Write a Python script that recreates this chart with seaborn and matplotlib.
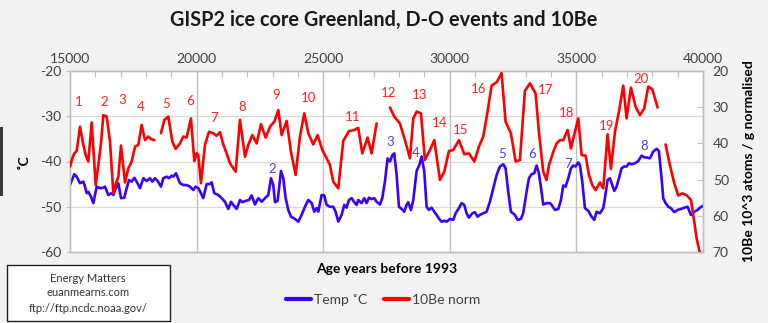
import numpy as np
import pandas as pd
import matplotlib
matplotlib.use("Agg")
import matplotlib.pyplot as plt
import seaborn as sns
from matplotlib.patches import Rectangle
from matplotlib.lines import Line2D

# ---------------- data ----------------
temp_age = [15000, 15171, 15264, 15395, 15527, 15593, 15658, 15724, 15830, 15922, 16053, 16185, 16316, 16382,
            16514, 16645, 16711, 16777, 16909, 17014, 17145, 17238, 17330, 17435, 17540, 17632, 17764, 17896,
            18027, 18159, 18251, 18356, 18461, 18593, 18685, 18817, 18909, 19014, 19080, 19185, 19343, 19475,
            19606, 19738, 19870, 19962, 20067, 20172, 20264, 20396, 20527, 20593, 20698, 20856, 20988, 21120,
            21251, 21358, 21450, 21582, 21713, 21805, 21937, 22069, 22174, 22305, 22437, 22569, 22700, 22832,
            22937, 23029, 23095, 23200, 23332, 23424, 23516, 23621, 23727, 23858, 24016, 24148, 24279, 24411,
            24543, 24648, 24740, 24806, 24937, 25043, 25135, 25266, 25398, 25490, 25595, 25727, 25832, 25924,
            26017, 26122, 26227, 26319, 26385, 26517, 26622, 26714, 26806, 26911, 27017, 27109, 27240, 27333,
            27438, 27543, 27636, 27729, 27807, 27900, 27992, 28097, 28202, 28294, 28360, 28465, 28558, 28689,
            28795, 28887, 28992, 29084, 29176, 29281, 29387, 29479, 29571, 29676, 29781, 29874, 30005, 30137,
            30229, 30361, 30466, 30571, 30663, 30755, 30887, 30992, 31097, 31190, 31321, 31453, 31584, 31716,
            31848, 31979, 32111, 32203, 32308, 32413, 32571, 32677, 32808, 32900, 33032, 33124, 33229, 33335,
            33427, 33519, 33624, 33690, 33822, 33953, 34021, 34153, 34284, 34390, 34482, 34574, 34679, 34784,
            34877, 34969, 35074, 35140, 35232, 35337, 35469, 35600, 35706, 35798, 35929, 36061, 36127, 36232,
            36324, 36416, 36495, 36587, 36680, 36785, 36890, 36982, 37074, 37180, 37311, 37443, 37574, 37680,
            37772, 37903, 38035, 38167, 38259, 38364, 38430, 38522, 38627, 38733, 38864, 38996, 39127, 39259,
            39391, 39522, 39654, 39785, 39877, 40000]
temp_c = [-45.2, -42.8, -43.35, -44.8, -44.45, -45.55, -47.0, -46.7, -47.8, -49.2, -45.55, -45.9, -45.8, -45.55,
          -47.4, -47.0, -47.4, -46.3, -44.8, -48.1, -48.0, -45.9, -44.1, -44.45, -43.6, -44.45, -45.9, -43.7,
          -44.3, -43.7, -44.45, -43.7, -44.3, -45.55, -43.7, -43.35, -43.7, -43.1, -43.35, -42.6, -44.8, -45.2,
          -45.2, -45.55, -46.3, -45.55, -45.9, -47.0, -48.1, -45.0, -45.0, -44.6, -47.0, -47.4, -48.1, -48.9,
          -50.5, -48.9, -49.6, -50.5, -48.5, -49.0, -48.7, -48.5, -47.5, -49.5, -48.1, -48.9, -48.1, -47.4,
          -43.7, -45.2, -49.0, -48.7, -42.1, -43.7, -48.1, -50.7, -52.2, -52.6, -53.3, -51.8, -50.0, -48.5,
          -49.2, -51.1, -50.3, -51.1, -47.4, -47.5, -49.6, -50.0, -50.0, -51.1, -53.3, -51.8, -49.6, -50.2,
          -48.5, -48.1, -49.0, -49.6, -48.5, -49.2, -48.1, -49.2, -48.0, -48.3, -48.1, -48.9, -49.5, -48.1,
          -44.45, -39.3, -40.0, -38.6, -38.2, -43.0, -50.0, -50.5, -51.1, -49.6, -49.0, -50.7, -48.5, -42.1,
          -40.8, -38.9, -42.2, -50.0, -50.7, -50.2, -51.1, -51.8, -52.6, -53.3, -53.1, -53.3, -52.7, -52.9,
          -51.45, -50.3, -49.2, -49.6, -51.45, -52.4, -51.45, -51.2, -52.2, -51.8, -51.45, -51.1, -48.9, -45.9,
          -43.0, -41.1, -40.6, -41.5, -46.7, -51.1, -51.8, -52.9, -52.7, -51.45, -46.7, -43.7, -42.8, -42.6,
          -40.9, -42.6, -46.7, -49.5, -49.2, -49.2, -49.6, -50.7, -50.5, -48.5, -45.3, -45.55, -43.7, -41.5,
          -40.9, -41.1, -40.2, -40.8, -44.45, -50.3, -50.9, -52.2, -52.9, -51.1, -51.45, -50.3, -48.1, -44.1,
          -43.7, -45.2, -46.5, -45.55, -43.7, -41.5, -41.1, -41.1, -40.4, -40.6, -40.4, -39.9, -38.7, -39.1,
          -39.1, -39.3, -37.8, -37.2, -37.7, -43.7, -48.1, -49.2, -50.0, -50.3, -51.2, -50.7, -50.5, -50.2,
          -50.0, -51.8, -51.1, -50.7, -50.2, -49.8]

be_age = [15000, 15093, 15171, 15264, 15395, 15527, 15619, 15724, 15856, 16014, 16119, 16224, 16316, 16448,
          16580, 16711, 16803, 16909, 17014, 17172, 17303, 17435, 17567, 17698, 17830, 17962, 18093, 18198,
          18330, 18460,
          18593, 18725, 18883, 19041, 19172, 19343, 19475, 19606, 19777, 19909, 20001, 20067, 20172, 20330,
          20488, 20659, 20790, 20922, 21054, 21185, 21317, 21542, 21713, 21911, 22042, 22200, 22371, 22542,
          22727, 22898, 23069, 23227, 23358, 23556, 23727, 23911, 24082, 24253, 24411, 24608, 24779, 24964,
          25135, 25266, 25398, 25595, 25793, 26017, 26227, 26385, 26543, 26753, 26911, 27109, 27370,
          27636, 27807, 28031, 28229, 28426, 28558, 28689, 28860, 29018, 29216, 29387, 29610, 29781, 29966,
          30137, 30361, 30571, 30755, 30966, 31150, 31321, 31492, 31650, 31848, 32045, 32203, 32413, 32598,
          32769, 32966, 33164, 33387, 33519, 33690, 33822, 33916, 34087, 34219, 34350, 34482, 34653, 34784,
          34942, 35074, 35206, 35364, 35495, 35627, 35758, 35929, 36061, 36232, 36364, 36522, 36680, 36851,
          36982, 37153, 37338, 37509, 37680, 37838, 37995, 38206, 38360,
          38522, 38693, 38864, 39022, 39180, 39351, 39522, 39654, 39746, 39900]
be_norm = [46.4, 44.1, 42.75, 42.1, 35.4, 40.4, 43.2, 45.0, 34.2, 51.5, 46.0, 40.0, 32.2, 32.6,
           39.5, 53.8, 51.3, 49.2, 40.6, 50.8, 46.9, 45.0, 40.9, 40.4, 34.9, 39.1, 38.1, 38.8,
           39.1, np.nan,
           37.2, 33.5, 32.6, 39.5, 41.5, 40.0, 38.1, 38.4, 33.1, 44.9, 42.75, 43.2, 51.0, 40.4,
           36.8, 37.2, 37.9, 36.9, 40.3, 42.75, 45.5, 47.8, 33.5, 43.7, 40.4, 37.7, 40.0, 34.7,
           38.4, 35.4, 34.0, 30.8, 37.7, 33.8, 42.3, 48.7, 38.1, 31.7, 37.2, 40.3, 37.7, 41.8,
           44.1, 46.0, 50.6, 52.4, 39.3, 36.6, 36.3, 35.7, 42.75, 38.4, 42.75, 34.5, np.nan,
           30.1, 32.6, 34.5, 39.1, 44.1, 33.1, 31.2, 31.7, 44.6, 41.8, 39.1, 50.1, 47.8, 42.1,
           41.8, 39.1, 43.0, 42.75, 45.0, 40.9, 38.1, 31.2, 24.05, 23.1, 20.6, 34.0, 37.2, 45.0,
           44.6, 25.5, 23.4, 26.2, 36.8, 47.8, 50.1, 46.0, 42.3, 40.0, 39.1, 39.1, 36.3, 41.4,
           36.8, 33.1, 43.2, 43.4, 48.7, 51.5, 52.9, 50.8, 52.4, 37.5, 47.1, 36.8, 31.2, 24.05,
           33.1, 24.6, 29.85, 32.2, 30.3, 24.3, 25.0, 30.1, np.nan,
           40.3, 46.0, 51.0, 54.4, 53.8, 54.3, 55.6, 61.6, 66.2, 71.0]

red_label_text = [str(i) for i in range(1, 21)]
red_label_age = [15355, 16343, 17053, 17804, 18791, 19739, 20687, 21792, 23135, 24438,
                 26176, 27597, 28822, 29611, 30440, 31151, 33797, 34627, 36206, 37549]
red_label_be = [28.6, 28.6, 28.0, 29.9, 29.1, 28.3, 33.0, 29.9, 26.6, 27.5,
                32.7, 26.1, 26.6, 34.4, 36.3, 25.0, 25.2, 31.6, 35.2, 22.2]

blue_label_text = ["2", "3", "4", "5", "6", "7", "8"]
blue_label_age = [22977, 27637, 28664, 32060, 33244, 34666, 37667]
blue_label_temp = [-41.7, -35.7, -38.1, -38.3, -38.3, -40.6, -36.6]

# ---------------- tables ----------------
temp_df = pd.DataFrame({"age": temp_age, "temp": temp_c})
be_df = pd.DataFrame({"age": be_age, "be": be_norm})
be_df["seg"] = be_df["be"].isna().cumsum()
be_df = be_df.dropna()

# ---------------- style ----------------
sns.set_theme(style="white")
plt.rcParams["font.family"] = ["Lato", "DejaVu Sans"]
plt.rcParams["axes.unicode_minus"] = False

BLUE = "#3a00ff"
RED = "#ff0000"
GREY_TXT = "#404040"

fig = plt.figure(figsize=(7.68, 3.23), dpi=100)
fig.patch.set_facecolor("#f2f2f2")
ax = fig.add_axes([70 / 768, 1 - 252 / 323, 633 / 768, 181 / 323])
ax.set_facecolor("white")

sns.lineplot(data=temp_df, x="age", y="temp", ax=ax, color=BLUE, lw=1.9,
             sort=False, estimator=None, zorder=3)

ax2 = ax.twinx()
sns.lineplot(data=be_df, x="age", y="be", units="seg", estimator=None, ax=ax2,
             color=RED, lw=1.9, sort=False, zorder=3)

# axes ranges
ax.set_xlim(15000, 40000)
ax.set_ylim(-60, -20)
ax2.set_ylim(70, 20)

# x axis on top
ax.xaxis.tick_top()
ax.set_xticks(np.arange(15000, 40001, 5000))
ax.set_xticks(np.arange(15000, 40001, 1000), minor=True)
ax.tick_params(axis="x", which="both", top=True, bottom=False, direction="in",
               length=4, width=0.8, color="#bfbfbf", labelsize=10, labelcolor=GREY_TXT, pad=4)
ax.set_yticks(np.arange(-60, -19, 10))
ax.tick_params(axis="y", which="major", left=True, direction="out", length=3, width=0.8,
               color="#bfbfbf", labelsize=10, labelcolor=GREY_TXT, pad=3)
ax2.set_yticks(np.arange(20, 71, 10))
ax2.tick_params(axis="y", which="major", right=True, direction="in", length=4, width=0.8,
                color="#bfbfbf", labelsize=10, labelcolor=GREY_TXT, pad=7)

# grid
ax.grid(False)
for yv in (-30, -40, -50):
    ax.axhline(yv, color="#d9d9d9", lw=0.9, zorder=0)
for xv in (20000, 25000, 30000, 35000):
    ax.axvline(xv, color="#bfbfbf", lw=1.0, zorder=0)

for a in (ax, ax2):
    for s in a.spines.values():
        s.set_color("#bfbfbf")
        s.set_linewidth(1.0)

ax.set_xlabel("Age years before 1993", fontsize=10, fontweight="bold", color="black", labelpad=8)
ax.xaxis.set_label_position("bottom")
ax.set_ylabel("˚C", fontsize=10, fontweight="bold", color="black", labelpad=8)
ax2.set_ylabel("10Be 10^3 atoms / g normalised", fontsize=10, fontweight="bold", color="black", labelpad=10)

# event labels
for t, xa, yb in zip(red_label_text, red_label_age, red_label_be):
    ax2.text(xa, yb, t, color="#ff2020", fontsize=9.5, ha="center", va="center", zorder=5)
for t, xa, yt in zip(blue_label_text, blue_label_age, blue_label_temp):
    ax.text(xa, yt, t, color="#5040f0", fontsize=9.5, ha="center", va="center", zorder=5)

# title
fig.text(0.5, 1 - 20 / 323, "GISP2 ice core Greenland, D-O events and 10Be",
         ha="center", va="center", fontsize=14.3, fontweight="bold", color="#1a1a1a")

# legend
handles = [Line2D([], [], color=BLUE, lw=3), Line2D([], [], color=RED, lw=3)]
fig.legend(handles, ["Temp ˚C", "10Be norm"], loc="center", bbox_to_anchor=(383 / 768, 1 - 300 / 323),
           ncol=2, frameon=False, fontsize=10, handlelength=1.8, handletextpad=0.2,
           columnspacing=1.2, labelcolor=GREY_TXT)

# source box
fig.patches.append(Rectangle((7 / 768, 2 / 323), 163 / 768, 56 / 323, transform=fig.transFigure,
                             facecolor="white", edgecolor="#222222", lw=1.0, zorder=1))
fig.text(88 / 768, 1 - 278 / 323, "Energy Matters", ha="center", va="center", fontsize=8, color="#333333")
fig.text(88 / 768, 1 - 293 / 323, "euanmearns.com", ha="center", va="center", fontsize=8, color="#333333")
fig.text(88 / 768, 1 - 308 / 323, "ftp://ftp.ncdc.noaa.gov/", ha="center", va="center", fontsize=8, color="#333333")

# left edge dark tab
fig.patches.append(Rectangle((0, 1 - 196 / 323), 3 / 768, 69 / 323, transform=fig.transFigure,
                             facecolor="#3a3a3a", edgecolor="none", zorder=1))

fig.savefig("out.png", dpi=100, facecolor=fig.get_facecolor())
